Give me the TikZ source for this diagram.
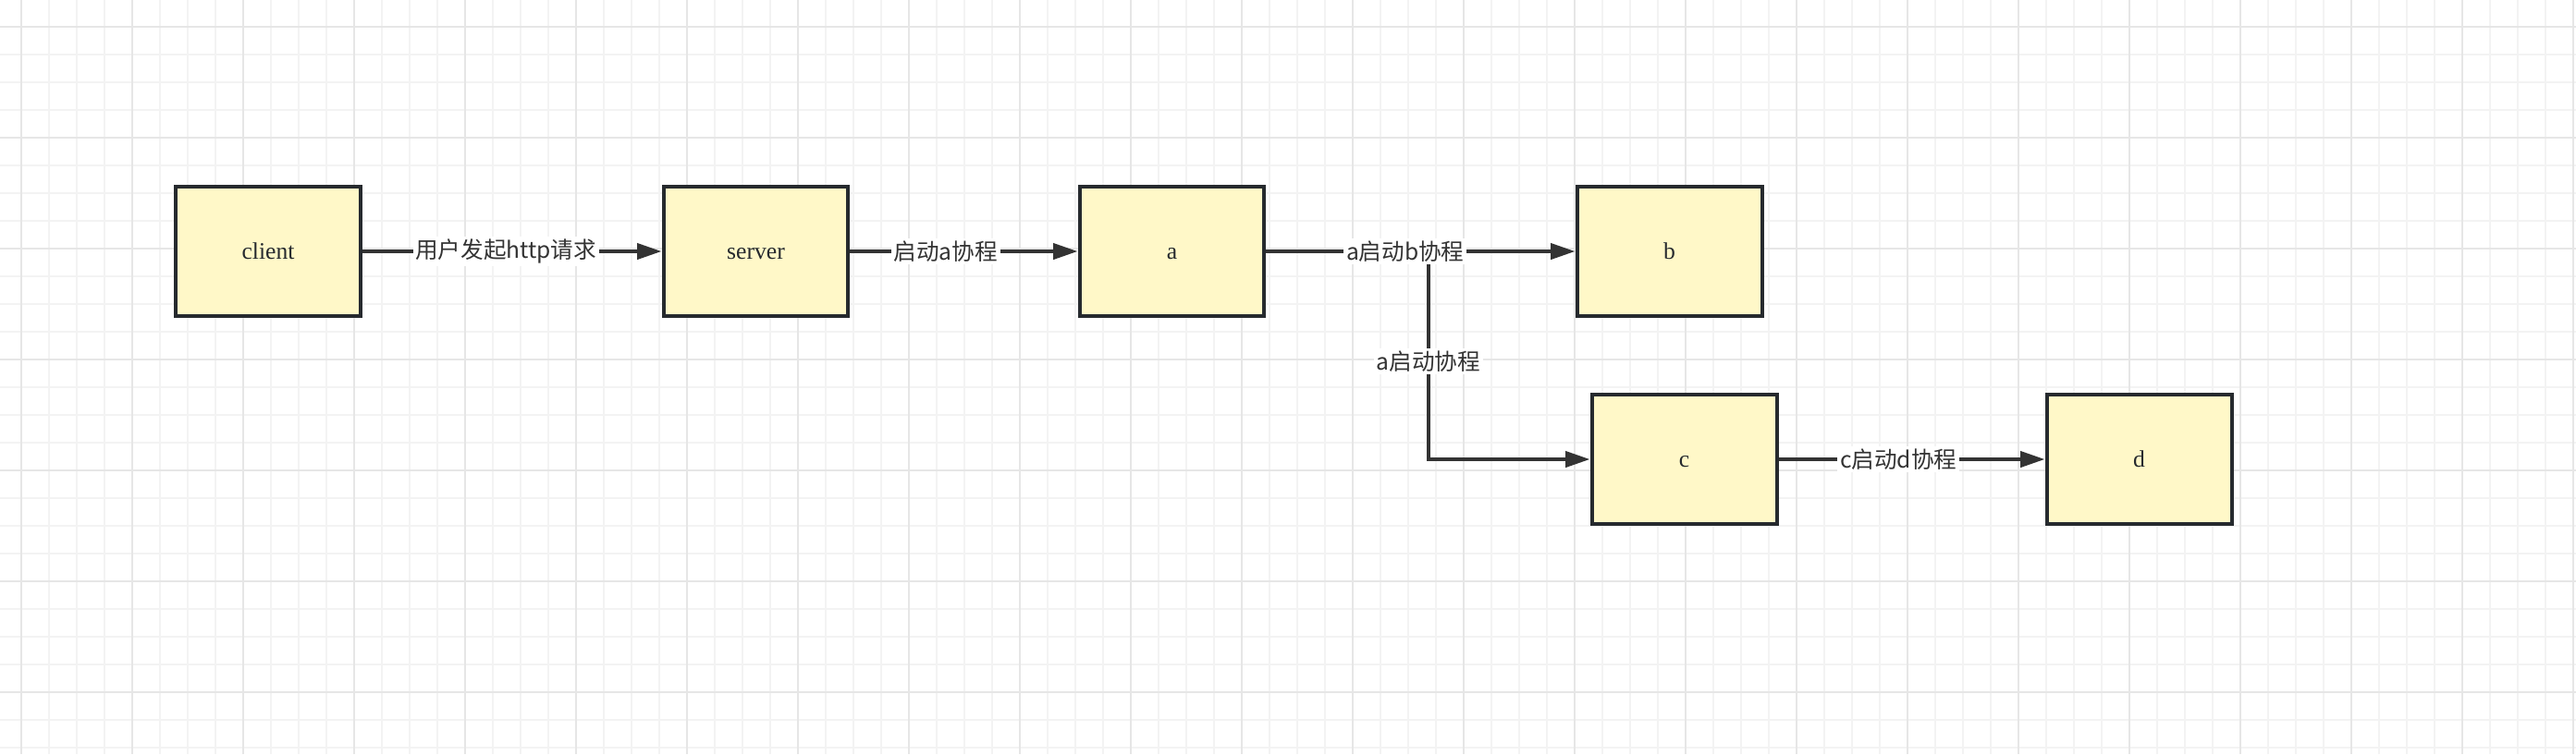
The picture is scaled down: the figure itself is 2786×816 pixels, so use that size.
\documentclass[tikz,border=0pt]{standalone}
\usepackage{fontspec}
\setmainfont{Liberation Serif}
\newfontfamily\cjk{Noto Sans CJK SC}
\usepackage{tikz}
\usetikzlibrary{arrows.meta, positioning}
\definecolor{boxfill}{HTML}{FFF8C8}
\definecolor{ink}{HTML}{262A2E}
\definecolor{wire}{HTML}{333333}
\definecolor{gridminor}{HTML}{F3F3F3}
\definecolor{gridmajor}{HTML}{E6E6E6}
\tikzset{box/.style={rectangle, draw=ink, fill=boxfill, line width=0.08cm, minimum width=4cm, minimum height=2.8cm, inner sep=0pt, text height=0.4cm, text depth=0.08cm, font=\fontsize{14.6}{17}\selectfont, text=ink},
    conn/.style={draw=wire, line width=0.08cm, -{Triangle[length=0.53cm,width=0.34cm]}},
    lbl/.style={fill=white, inner sep=1.5pt, text=wire, font=\fontsize{14}{16}\selectfont\cjk},
    minorline/.style={draw=gridminor, line width=0.04cm},
    majorline/.style={draw=gridmajor, line width=0.04cm}}

\begin{document}
\begin{tikzpicture}[x=0.02cm, y=-0.02cm]
    \useasboundingbox (0,0) rectangle (2786,816);
    \fill[white] (0,0) rectangle (2786,816);

    % grid
    \foreach \i in {0,...,93} {\draw[minorline] ({-7+30*\i},0) -- ({-7+30*\i},816);}
    \foreach \j in {0,...,27} {\draw[minorline] (0,{-1+30*\j}) -- (2786,{-1+30*\j});}
    \foreach \i in {0,...,23} {\draw[majorline] ({23+120*\i},0) -- ({23+120*\i},816);}
    \foreach \j in {0,...,6} {\draw[majorline] (0,{29+120*\j}) -- (2786,{29+120*\j});}

    % boxes
    \node[box] (client) at (290,272) {client};
    \node[box] (server) at (817.5,272) {server};
    \node[box] (a) at (1267.5,272) {a};
    \node[box] (b) at (1805.5,272) {b};
    \node[box] (c) at (1821.5,497) {c};
    \node[box] (d) at (2313.5,497) {d};

    \coordinate (fork) at (1545,272);

    % connectors
    \draw[conn] (client) -- node[lbl, pos=0.48] {用户发起http请求} (server);
    \draw[conn] (server) -- node[lbl, pos=0.42] {启动a协程} (a);
    \draw[conn] (fork) |- node[lbl, pos=0.264] {a启动协程} (c);
    \draw[conn] (a) -- node[lbl, pos=0.45] {a启动b协程} (b);
    \draw[conn] (c) -- node[lbl, pos=0.45] {c启动d协程} (d);
\end{tikzpicture}
\end{document}
